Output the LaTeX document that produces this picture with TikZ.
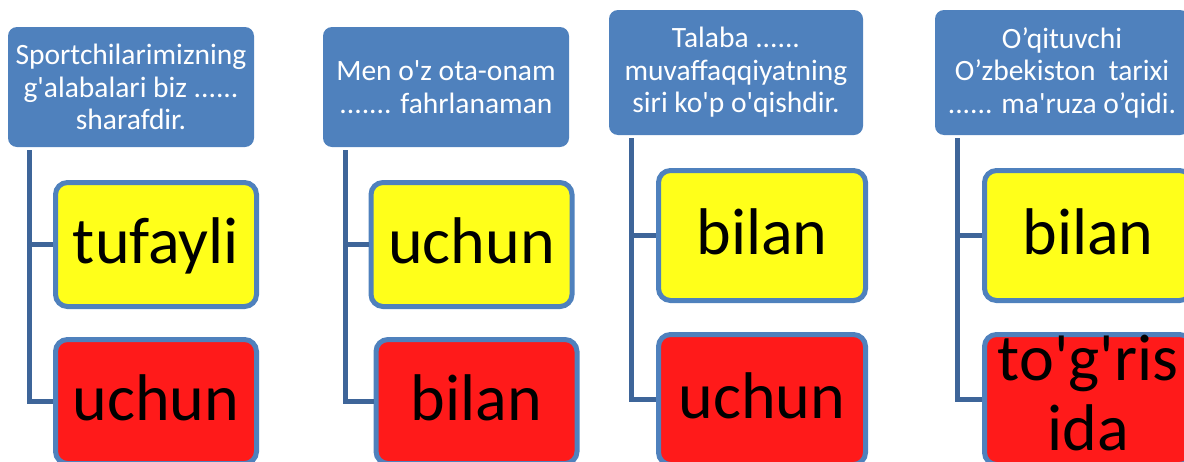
\documentclass[tikz,border=0pt]{standalone}
\usepackage{fontspec}
\setmainfont{Carlito}
\newcommand{\apo}{\textquotesingle}
\definecolor{bleu}{RGB}{79,129,189}
\definecolor{bleufonce}{RGB}{62,101,153}
\definecolor{jaune}{RGB}{255,255,26}
\definecolor{rouge}{RGB}{255,26,26}
\tikzset{
  titre/.style={fill=bleu, rounded corners=9pt, text=white, align=center,
    inner sep=0pt, font=\fontsize{29.5}{32.5}\selectfont},
  choix/.style={draw=bleu, line width=5pt, rounded corners=12pt, inner sep=0pt,
    align=center, text height=46pt, text depth=9pt, font=\fontsize{66}{70}\selectfont},
  lien/.style={draw=bleufonce, line width=5pt},
}
\begin{document}
\begin{tikzpicture}[x=1pt, y=-1pt]
			\useasboundingbox (0,0) rectangle (1184,461);
			\clip (0,0) rectangle (1184,461);
			% les phrases
			\node[titre, minimum width=246, minimum height=120] (t1) at (131,87)
				{Sportchilarimizning\\g\apo alabalari biz ......\\sharafdir.};
			\node[titre, minimum width=246, minimum height=120] (t2) at (446,87)
				{Men o\apo z ota-onam\\....... fahrlanaman};
			\node[titre, minimum width=254, minimum height=125] (t3) at (736,72.5)
				{Talaba ......\\muvaffaqqiyatning\\siri ko\apo p o\apo qishdir.};
			\node[titre, minimum width=254, minimum height=125] (t4) at (1062,72.5)
				{O’qituvchi\\O’zbekiston~ tarixi\\...... ma\apo ruza o’qidi.};
			% les bonnes reponses
			\node[choix, fill=jaune, minimum width=201, minimum height=124] (a1) at (156,244.5) {tufayli};
			\node[choix, fill=jaune, minimum width=201, minimum height=124] (a2) at (471.5,244.5) {uchun};
			\node[choix, fill=jaune, minimum width=207, minimum height=130] (a3) at (762,235.5) {bilan};
			\node[choix, fill=jaune, minimum width=207, minimum height=130] (a4) at (1088,235.5) {bilan};
			% les mauvaises reponses
			\node[choix, fill=rouge, minimum width=201, minimum height=124] (b1) at (156,401.5) {uchun};
			\node[choix, fill=rouge, minimum width=201, minimum height=124] (b2) at (476.5,401.5) {bilan};
			\node[choix, fill=rouge, minimum width=207, minimum height=130] (b3) at (762,399.5) {uchun};
			\node[choix, fill=rouge, minimum width=207, minimum height=130, text height=114pt, text depth=13pt] (b4) at (1088,399.5) {to\apo g\apo ris\\ida};
			% les liens
			\coordinate (c1) at ([xshift=22,yshift=-3]t1.south west);
			\coordinate (c2) at ([xshift=23,yshift=-3]t2.south west);
			\coordinate (c3) at ([xshift=23,yshift=-3]t3.south west);
			\coordinate (c4) at ([xshift=23,yshift=-3]t4.south west);
			\draw[lien] (c1) |- (b1.west) (c1 |- a1.west) -- (a1.west);
			\draw[lien] (c2) |- (b2.west) (c2 |- a2.west) -- (a2.west);
			\draw[lien] (c3) |- (b3.west) (c3 |- a3.west) -- (a3.west);
			\draw[lien] (c4) |- (b4.west) (c4 |- a4.west) -- (a4.west);
		\end{tikzpicture}
\end{document}
